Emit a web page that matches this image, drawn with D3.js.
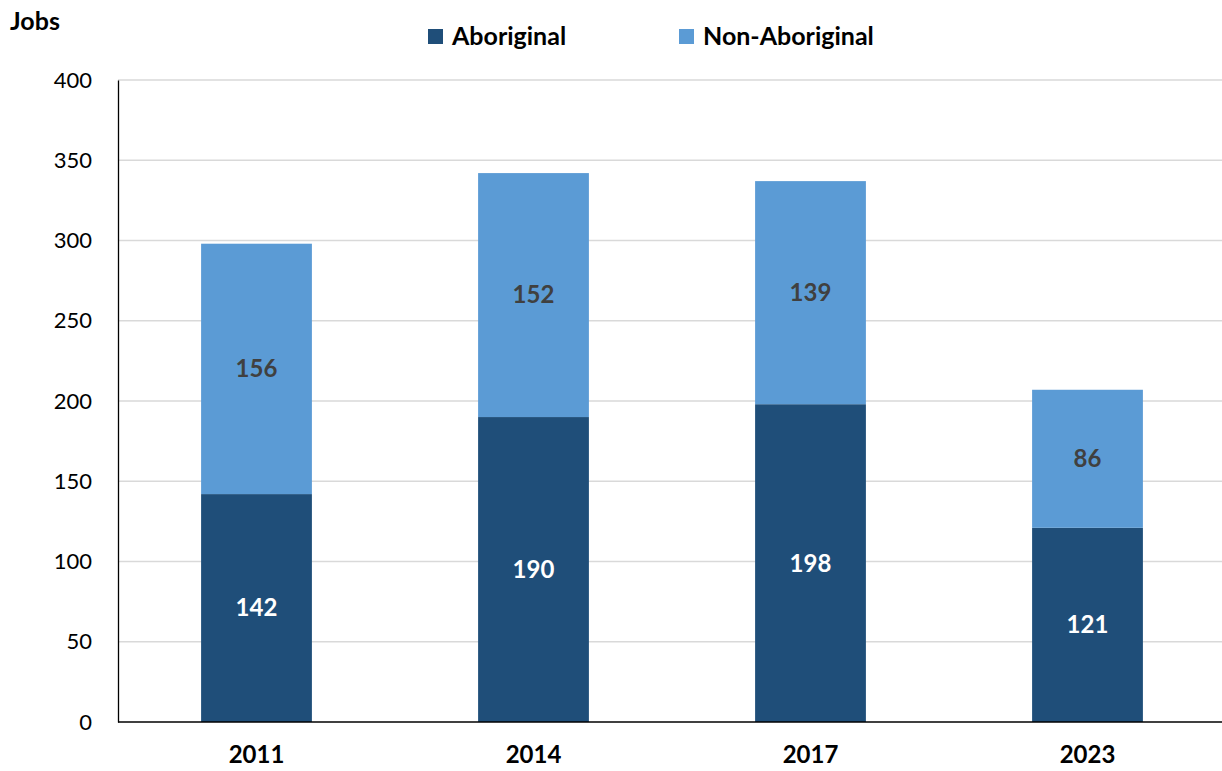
<!DOCTYPE html>
<html>
<head>
<meta charset="utf-8">
<script src="https://cdn.jsdelivr.net/npm/d3@7"></script>
<style>
  body { margin: 0; background: #fff; }
  text { font-family: Lato, "Open Sans", sans-serif; }
</style>
</head>
<body>
<div id="chart"></div>
<script>
let years = ['2011', '2014', '2017', '2023']
let aboriginal = [142, 190, 198, 121]
let nonAboriginal = [156, 152, 139, 86]
let yTicks = [0, 50, 100, 150, 200, 250, 300, 350, 400]
let seriesNames = ['Aboriginal', 'Non-Aboriginal']
let colors = ['#1f4e79', '#5b9bd5']
let labelColors = ['#ffffff', '#404040']

function main () {
  let width = 1222
  let height = 771
  let svg = d3.select('#chart').append('svg').attr('width', width).attr('height', height)

  let x = d3.scaleBand().domain(years).range([118, 1226]).paddingInner(0.6).paddingOuter(0.3)
  let y = d3.scaleLinear().domain([0, 400]).range([722, 80])

  // gridlines
  svg.append('g').selectAll('line').data(yTicks.slice(1)).join('line')
    .attr('x1', 118).attr('x2', width)
    .attr('y1', (d) => y(d)).attr('y2', (d) => y(d))
    .attr('stroke', '#d9d9d9').attr('stroke-width', 1.3)

  let rows = years.map((yr, i) => ({ year: yr, Aboriginal: aboriginal[i], 'Non-Aboriginal': nonAboriginal[i] }))
  let stack = d3.stack().keys(seriesNames)(rows)

  stack.forEach((layer, li) => {
    let g = svg.append('g')
    g.selectAll('rect').data(layer).join('rect')
      .attr('x', (d) => x(d.data.year))
      .attr('width', x.bandwidth())
      .attr('y', (d) => y(d[1]))
      .attr('height', (d) => y(d[0]) - y(d[1]))
      .attr('fill', colors[li])
    g.selectAll('text').data(layer).join('text')
      .attr('x', (d) => x(d.data.year) + x.bandwidth() / 2)
      .attr('y', (d) => (y(d[0]) + y(d[1])) / 2)
      .attr('dy', '0.35em')
      .attr('text-anchor', 'middle')
      .attr('font-size', 24).attr('font-weight', 'bold')
      .attr('fill', labelColors[li])
      .text((d) => d[1] - d[0])
  })

  // y axis
  let yAxis = svg.append('g').attr('transform', 'translate(118,0)')
    .call(d3.axisLeft(y).tickValues(yTicks).tickSize(0).tickPadding(26))
  yAxis.select('.domain').attr('stroke', '#000').attr('stroke-width', 1.3)
  yAxis.selectAll('text').attr('font-size', 22).attr('fill', '#000').style('font-family', 'Lato, sans-serif')

  // x axis
  let xAxis = svg.append('g').attr('transform', 'translate(0,722)')
    .call(d3.axisBottom(x).tickSize(0).tickPadding(24))
  xAxis.select('.domain').attr('d', 'M118,0H' + width).attr('stroke', '#000').attr('stroke-width', 1.3)
  xAxis.selectAll('text').attr('font-size', 24).attr('font-weight', 'bold').attr('fill', '#000').style('font-family', 'Lato, sans-serif')

  // axis title
  svg.append('text').attr('x', 10).attr('y', 30).attr('font-size', 25).attr('font-weight', 'bold').text('Jobs')

  // legend
  let legendX = [428, 679]
  let lg = svg.append('g').selectAll('g').data(seriesNames).join('g')
    .attr('transform', (d, i) => 'translate(' + legendX[i] + ',29)')
  lg.append('rect').attr('width', 15).attr('height', 15).attr('fill', (d, i) => colors[i])
  lg.append('text').attr('x', 24).attr('y', 7.5).attr('dy', '0.35em')
    .attr('font-size', 25).attr('font-weight', 'bold').text((d) => d)
}

main()
</script>
</body>
</html>
